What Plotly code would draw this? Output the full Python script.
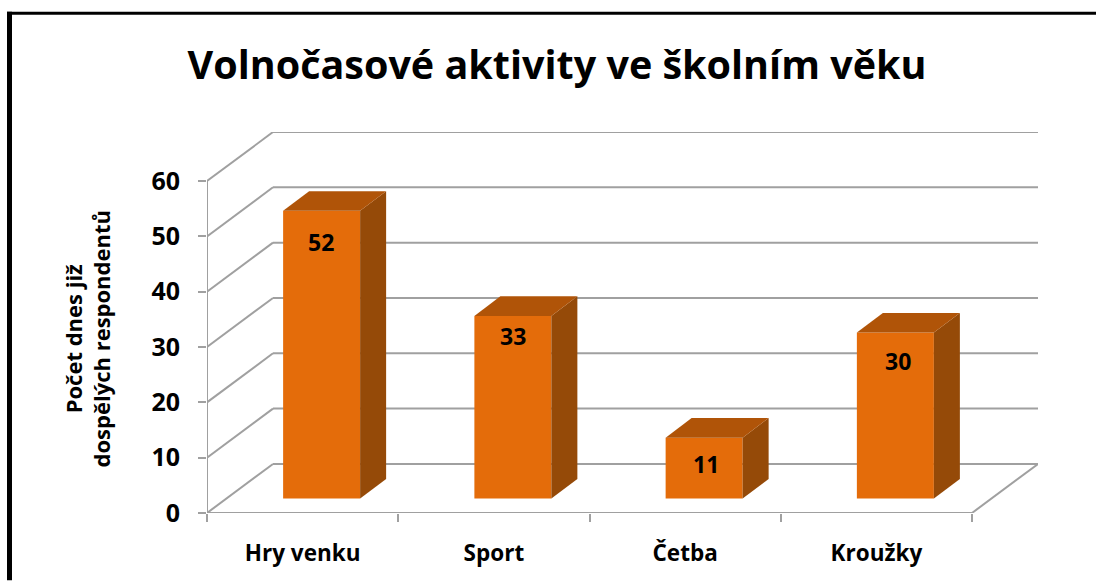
import plotly.graph_objects as go

categories = ["Hry venku", "Sport", "Četba", "Kroužky"]
values = [52, 33, 11, 30]
y_ticks = [0, 10, 20, 30, 40, 50, 60]
title_text = "Volnočasové aktivity ve školním věku"
y_title = "Počet dnes již<br>dospělých respondentů"

W, H = 1096, 581
PX_LEFT, PX_RIGHT_FRONT, PX_RIGHT_BACK = 207, 972, 1038
PX_ZERO, PX_SIXTY, PX_TOP_BACK = 513.5, 180.7, 131.5
px_x = (PX_RIGHT_FRONT - PX_LEFT) / 4
px_y = (PX_ZERO - PX_SIXTY) / 60
FONT = "Open Sans"
GRID = "#A0A0A0"
FRONT, TOP, SIDE = "#E46C0A", "#B05408", "#954A08"

wall_dx, wall_dy = (PX_RIGHT_BACK - PX_RIGHT_FRONT) / px_x, (PX_SIXTY - PX_TOP_BACK) / px_y
bar_shift, bar_base = 19 / px_x, 14.5 / px_y
bar_w = 77 / px_x
depth_dx, depth_dy = 26 / px_x, 19.7 / px_y
label_drop = [31, 20, 26, 28]
label_nudge = [-1, 0, 2, 3]

ML, MR, MT, MB = PX_LEFT, W - PX_RIGHT_BACK, PX_TOP_BACK, H - PX_ZERO
PW, PH = W - ML - MR, H - MT - MB

def fy(p):
    return 1 - p / H
def paper_x(p):
    return (p - ML) / PW
def paper_y(p):
    return (H - MB - p) / PH

fig = go.Figure()
xs = [i + bar_shift for i in range(len(values))]
fig.add_trace(go.Bar(x=xs, y=values, base=bar_base, width=bar_w,
                     marker=dict(color=FRONT, line=dict(width=0)),
                     showlegend=False, hoverinfo="skip"))
for x, v in zip(xs, values):
    l, r = x - bar_w / 2, x + bar_w / 2
    t, b = v + bar_base, bar_base
    fig.add_trace(go.Scatter(x=[r, r + depth_dx, r + depth_dx, r, r],
                             y=[b, b + depth_dy, t + depth_dy, t, b],
                             mode="lines", fill="toself", fillcolor=SIDE,
                             line=dict(width=0, color=SIDE), showlegend=False, cliponaxis=False,
                             hoverinfo="skip"))
    fig.add_trace(go.Scatter(x=[l, r, r + depth_dx, l + depth_dx, l],
                             y=[t, t, t + depth_dy, t + depth_dy, t],
                             mode="lines", fill="toself", fillcolor=TOP,
                             line=dict(width=0, color=TOP), showlegend=False, cliponaxis=False,
                             hoverinfo="skip"))

shapes = []
xl, xr = -0.5, len(categories) - 0.5
def seg(a, b, c, d):
    shapes.append(dict(type="line", xref="x", yref="y", x0=a, y0=b, x1=c, y1=d,
                       layer="below", line=dict(color=GRID, width=2)))
for v in y_ticks:
    seg(xl, v, xl + wall_dx, v + wall_dy)
    seg(xl + wall_dx, v + wall_dy, xr + wall_dx, v + wall_dy)
seg(xr, 0, xr + wall_dx, wall_dy)
seg(xl, 0, xr, 0)           # front edge of the floor
seg(xl, 0, xl, y_ticks[-1])  # value axis line
# black frame of the slide
shapes.append(dict(type="rect", xref="paper", yref="paper", x0=paper_x(7), x1=paper_x(12),
                   y0=paper_y(581), y1=paper_y(11), fillcolor="black", line=dict(width=0), layer="above"))
shapes.append(dict(type="rect", xref="paper", yref="paper", x0=paper_x(7), x1=paper_x(1096),
                   y0=paper_y(14), y1=paper_y(11), fillcolor="black", line=dict(width=0), layer="above"))

annotations = [dict(x=x, y=v + bar_base, xref="x", yref="y", text=str(v), showarrow=False,
                    yshift=-d, xshift=n, xanchor="center", yanchor="middle",
                    font=dict(family=FONT, size=23, color="black", weight="bold"))
               for x, v, d, n in zip(xs, values, label_drop, label_nudge)]
annotations.append(dict(xref="paper", yref="paper", x=paper_x(87.5), y=paper_y(339),
                        text=y_title, textangle=-90, showarrow=False,
                        xanchor="center", yanchor="middle", align="center",
                        font=dict(family=FONT, size=22, color="black", weight="bold")))

fig.update_layout(
    width=W, height=H, margin=dict(l=ML, r=MR, t=MT, b=MB, pad=0),
    paper_bgcolor="white", plot_bgcolor="rgba(0,0,0,0)",
    title=dict(text=title_text, x=557 / W, xanchor="center", y=fy(65), yanchor="middle",
               font=dict(family=FONT, size=39.5, color="black", weight="bold")),
    shapes=shapes, annotations=annotations, showlegend=False, barmode="overlay",
    xaxis=dict(range=[xl, xr + wall_dx], tickmode="array", tickvals=list(range(len(categories))), ticktext=categories,
               ticks="", showgrid=False, zeroline=False, showline=False, ticklabelstandoff=24,
               tickfont=dict(family=FONT, size=22.5, color="black", weight="bold"),
               minor=dict(tickmode="array", tickvals=[xl + i for i in range(len(categories) + 1)],
                          ticks="outside", ticklen=8, tickwidth=2, tickcolor=GRID, showgrid=False)),
    yaxis=dict(range=[0, y_ticks[-1] + wall_dy], tickmode="array", tickvals=y_ticks, ticks="outside", ticklen=8,
               tickwidth=2, tickcolor=GRID, showgrid=False, zeroline=False, showline=False, ticklabelstandoff=13,
               tickfont=dict(family=FONT, size=25, color="black", weight="bold")),
)
fig.write_html("out.html", config={"displayModeBar": False}, post_script="document.body.style.margin='0';")
